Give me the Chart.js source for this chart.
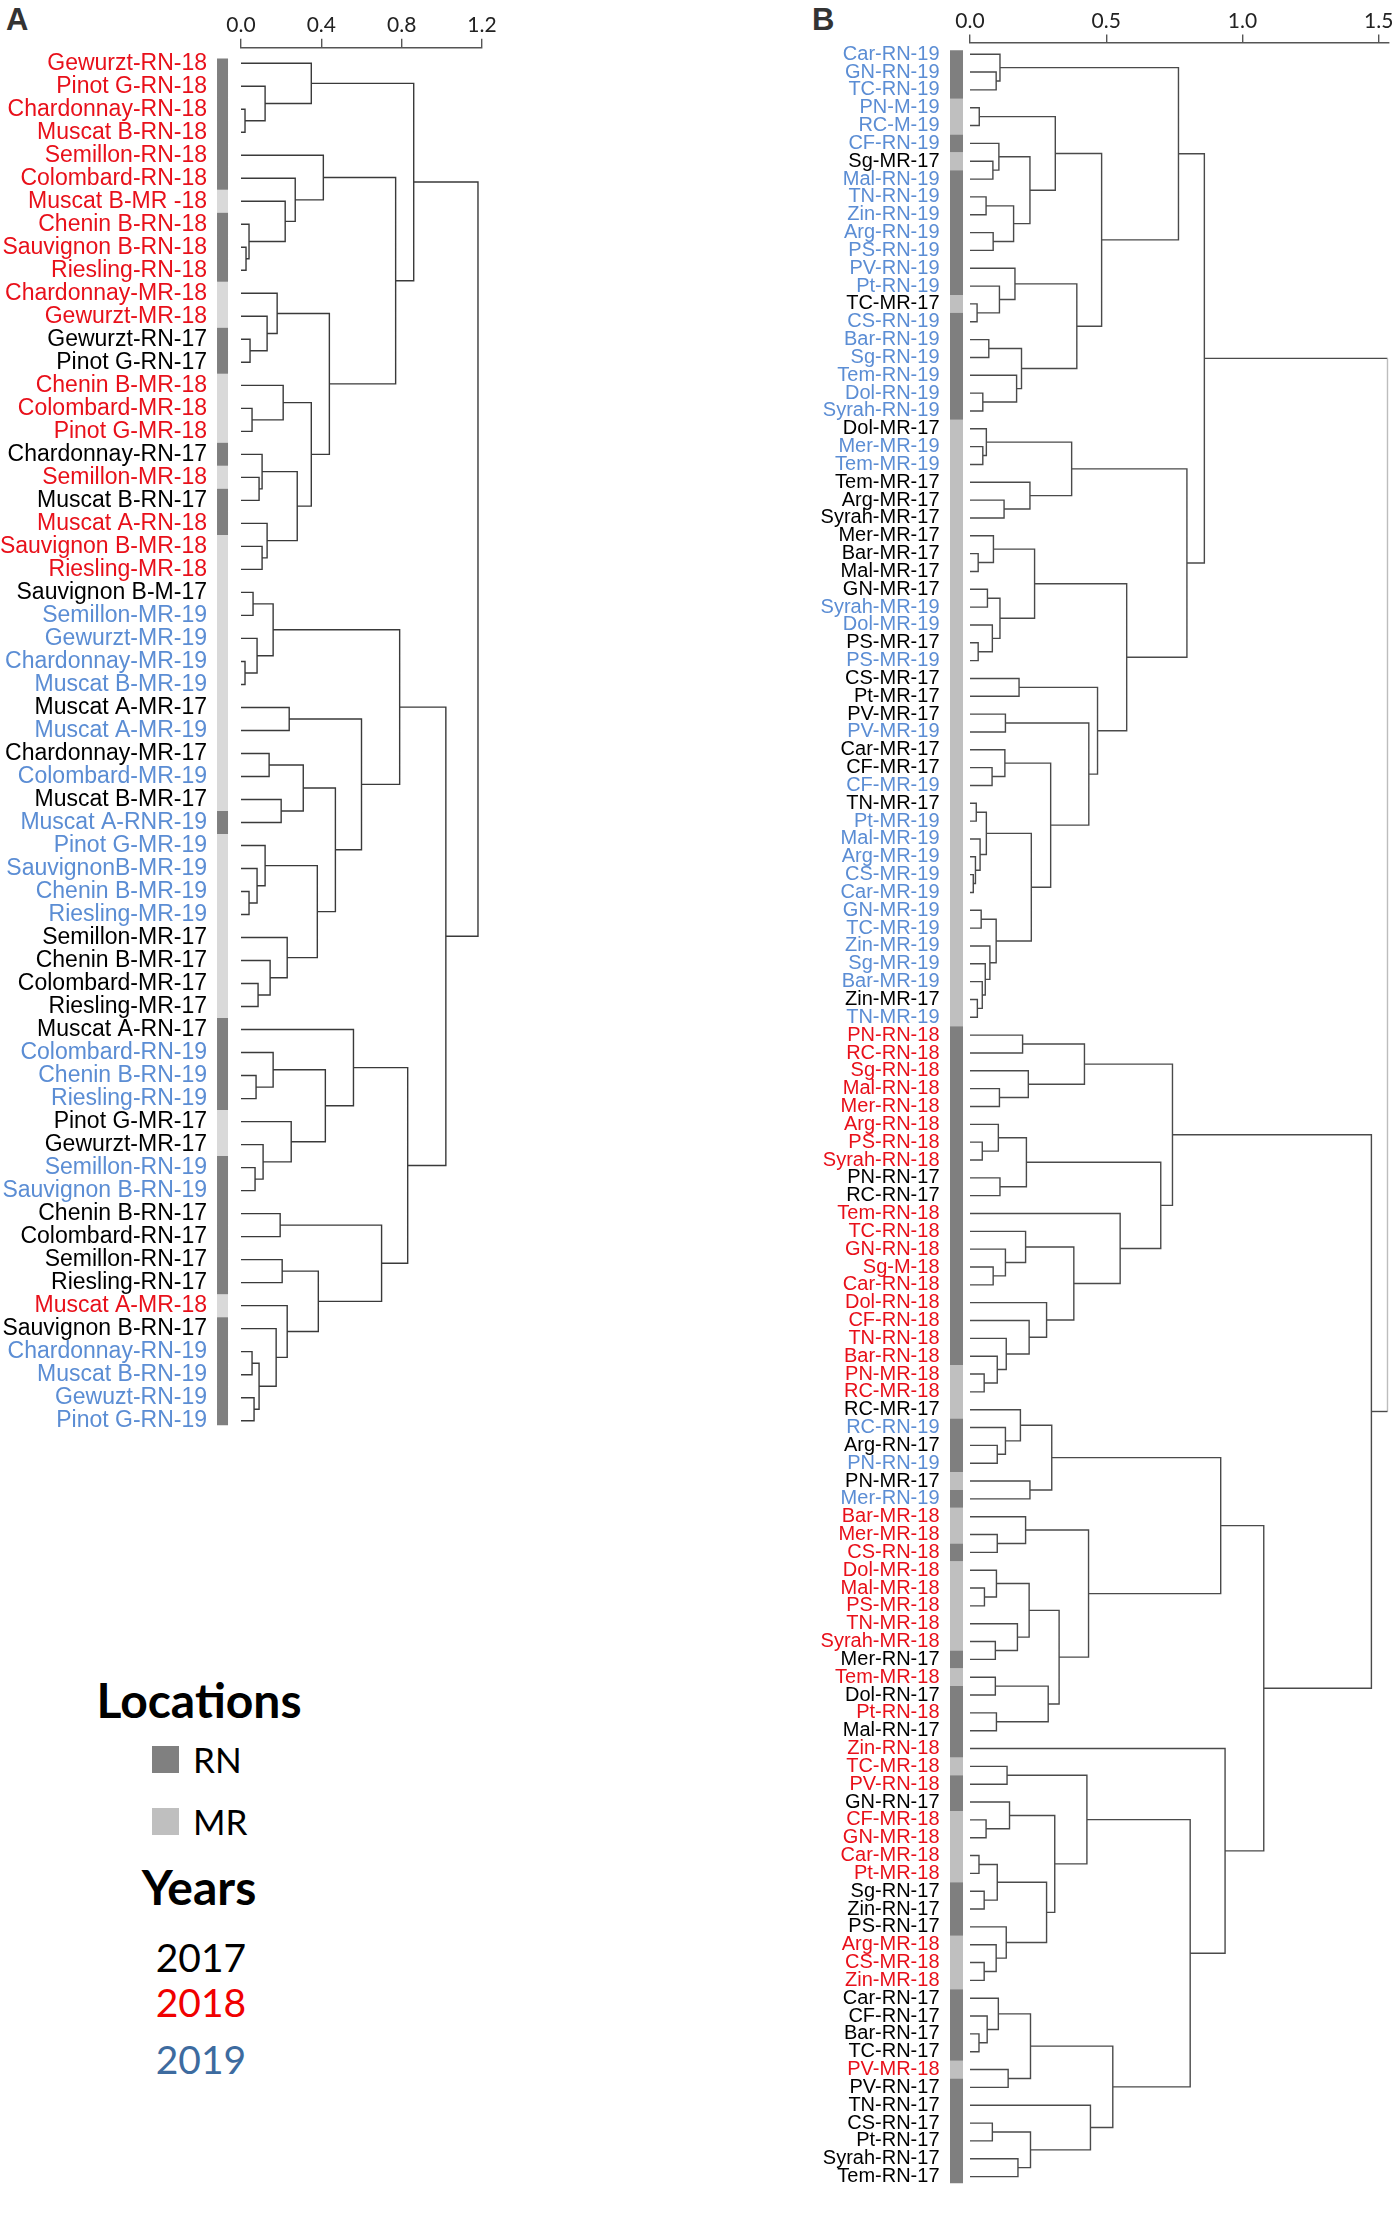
<!DOCTYPE html>
<html>
<head>
<meta charset="utf-8">
<title>Dendrograms A and B</title>
<script src="https://cdn.jsdelivr.net/npm/chart.js@4.4.1/dist/chart.umd.min.js"></script>
<style>
  html, body { margin: 0; padding: 0; background: #fff; }
  body { width: 1397px; height: 2228px; position: relative; overflow: hidden; }
  canvas { position: absolute; top: 0; }
  .tag { position: absolute; top: 2px; font: bold 31px 'Liberation Sans', Arial, sans-serif; color: #333; }
  .lg { position: absolute; font-family: Lato, 'Open Sans', sans-serif; line-height: 1; white-space: nowrap; }
  .lg.head { font-weight: bold; font-size: 48px; left: 0; width: 398px; text-align: center; color: #000; }
  .lg.item { font-size: 35px; color: #000; }
  .lg.year { font-size: 39px; left: 0; width: 402px; text-align: center; }
  .sw { position: absolute; width: 27px; height: 27px; left: 152px; }
</style>
</head>
<body>
<div class="tag" style="left:6px">A</div>
<div class="tag" style="left:812px">B</div>
<canvas id="chartA" width="500" height="1480" style="left:0"></canvas>
<canvas id="chartB" width="697" height="2228" style="left:700px"></canvas>

<div class="lg head" style="top:1676px">Locations</div>
<div class="sw" style="top:1746px;background:#808080"></div>
<div class="lg item" style="left:193px;top:1742px">RN</div>
<div class="sw" style="top:1808px;background:#bfbfbf"></div>
<div class="lg item" style="left:193px;top:1804px">MR</div>
<div class="lg head" style="top:1863px">Years</div>
<div class="lg year" style="top:1938px;color:#000">2017</div>
<div class="lg year" style="top:1983px;color:#f00000">2018</div>
<div class="lg year" style="top:2040px;color:#3d6b9f">2019</div>

<script>
'use strict';

/* ── Panel A ─────────────────────────────────────────────── */
const leavesA = ['Gewurzt-RN-18','Pinot G-RN-18','Chardonnay-RN-18','Muscat B-RN-18','Semillon-RN-18',
  'Colombard-RN-18','Muscat B-MR -18','Chenin B-RN-18','Sauvignon B-RN-18','Riesling-RN-18',
  'Chardonnay-MR-18','Gewurzt-MR-18','Gewurzt-RN-17','Pinot G-RN-17','Chenin B-MR-18',
  'Colombard-MR-18','Pinot G-MR-18','Chardonnay-RN-17','Semillon-MR-18','Muscat B-RN-17',
  'Muscat A-RN-18','Sauvignon B-MR-18','Riesling-MR-18','Sauvignon B-M-17','Semillon-MR-19',
  'Gewurzt-MR-19','Chardonnay-MR-19','Muscat B-MR-19','Muscat A-MR-17','Muscat A-MR-19',
  'Chardonnay-MR-17','Colombard-MR-19','Muscat B-MR-17','Muscat A-RNR-19','Pinot G-MR-19',
  'SauvignonB-MR-19','Chenin B-MR-19','Riesling-MR-19','Semillon-MR-17','Chenin B-MR-17',
  'Colombard-MR-17','Riesling-MR-17','Muscat A-RN-17','Colombard-RN-19','Chenin B-RN-19',
  'Riesling-RN-19','Pinot G-MR-17','Gewurzt-MR-17','Semillon-RN-19','Sauvignon B-RN-19',
  'Chenin B-RN-17','Colombard-RN-17','Semillon-RN-17','Riesling-RN-17','Muscat A-MR-18',
  'Sauvignon B-RN-17','Chardonnay-RN-19','Muscat B-RN-19','Gewuzt-RN-19','Pinot G-RN-19'];

// location strip, as runs of [location, number of leaves]
const locRunsA = [['RN',6],['MR',1],['RN',3],['MR',2],['RN',2],['MR',3],['RN',1],['MR',1],['RN',2],
  ['MR',12],['RN',1],['MR',8],['RN',4],['MR',2],['RN',6],['MR',1],['RN',5]];

// merges: [first leaf, last leaf of left cluster, last leaf of right cluster, height]
const linksA = [
  [3,3,4,0.02],[2,2,4,0.12],[1,1,4,0.35],
  [9,9,10,0.025],[8,8,10,0.04],[7,7,10,0.22],[6,6,10,0.27],[5,5,10,0.41],
  [13,13,14,0.045],[12,12,14,0.13],[11,11,14,0.18],
  [16,16,17,0.055],[15,15,17,0.21],
  [19,19,20,0.09],[18,18,20,0.105],[22,22,23,0.105],[21,21,23,0.13],[18,20,23,0.28],
  [15,17,23,0.35],[11,14,23,0.44],[5,10,23,0.77],[1,4,23,0.86],
  [24,24,25,0.06],[27,27,28,0.02],[26,26,28,0.08],[24,25,28,0.16],
  [29,29,30,0.24],[31,31,32,0.14],[33,33,34,0.20],[31,32,34,0.31],
  [37,37,38,0.04],[36,36,38,0.08],[35,35,38,0.12],
  [41,41,42,0.085],[40,40,42,0.145],[39,39,42,0.23],[35,38,42,0.38],
  [31,34,42,0.47],[29,30,42,0.60],[24,28,42,0.79],
  [45,45,46,0.075],[44,44,46,0.16],[49,49,50,0.07],[48,48,50,0.11],[47,47,50,0.25],
  [44,46,50,0.42],[43,43,50,0.56],
  [51,51,52,0.195],[53,53,54,0.205],[57,57,58,0.055],[59,59,60,0.065],[57,58,60,0.09],
  [56,56,60,0.175],[55,55,60,0.23],[53,54,60,0.385],[51,52,60,0.70],
  [43,50,60,0.83],[24,42,60,1.02],[1,23,60,1.18]];

const ticksA = [0, 0.4, 0.8, 1.2];

/* ── Panel B ─────────────────────────────────────────────── */
const leavesB = ['Car-RN-19','GN-RN-19','TC-RN-19','PN-M-19','RC-M-19','CF-RN-19','Sg-MR-17','Mal-RN-19',
  'TN-RN-19','Zin-RN-19','Arg-RN-19','PS-RN-19','PV-RN-19','Pt-RN-19','TC-MR-17','CS-RN-19',
  'Bar-RN-19','Sg-RN-19','Tem-RN-19','Dol-RN-19','Syrah-RN-19','Dol-MR-17','Mer-MR-19','Tem-MR-19',
  'Tem-MR-17','Arg-MR-17','Syrah-MR-17','Mer-MR-17','Bar-MR-17','Mal-MR-17','GN-MR-17','Syrah-MR-19',
  'Dol-MR-19','PS-MR-17','PS-MR-19','CS-MR-17','Pt-MR-17','PV-MR-17','PV-MR-19','Car-MR-17',
  'CF-MR-17','CF-MR-19','TN-MR-17','Pt-MR-19','Mal-MR-19','Arg-MR-19','CS-MR-19','Car-MR-19',
  'GN-MR-19','TC-MR-19','Zin-MR-19','Sg-MR-19','Bar-MR-19','Zin-MR-17','TN-MR-19','PN-RN-18',
  'RC-RN-18','Sg-RN-18','Mal-RN-18','Mer-RN-18','Arg-RN-18','PS-RN-18','Syrah-RN-18','PN-RN-17',
  'RC-RN-17','Tem-RN-18','TC-RN-18','GN-RN-18','Sg-M-18','Car-RN-18','Dol-RN-18','CF-RN-18',
  'TN-RN-18','Bar-RN-18','PN-MR-18','RC-MR-18','RC-MR-17','RC-RN-19','Arg-RN-17','PN-RN-19',
  'PN-MR-17','Mer-RN-19','Bar-MR-18','Mer-MR-18','CS-RN-18','Dol-MR-18','Mal-MR-18','PS-MR-18',
  'TN-MR-18','Syrah-MR-18','Mer-RN-17','Tem-MR-18','Dol-RN-17','Pt-RN-18','Mal-RN-17','Zin-RN-18',
  'TC-MR-18','PV-RN-18','GN-RN-17','CF-MR-18','GN-MR-18','Car-MR-18','Pt-MR-18','Sg-RN-17',
  'Zin-RN-17','PS-RN-17','Arg-MR-18','CS-MR-18','Zin-MR-18','Car-RN-17','CF-RN-17','Bar-RN-17',
  'TC-RN-17','PV-MR-18','PV-RN-17','TN-RN-17','CS-RN-17','Pt-RN-17','Syrah-RN-17','Tem-RN-17'];

const locRunsB = [['RN',3],['MR',2],['RN',1],['MR',1],['RN',7],['MR',1],['RN',6],['MR',34],['RN',19],
  ['MR',3],['RN',3],['MR',1],['RN',1],['MR',2],['RN',1],['MR',5],['RN',1],['MR',1],['RN',4],['MR',1],
  ['RN',2],['MR',4],['RN',3],['MR',3],['RN',4],['MR',1],['RN',6]];

const linksB = [
  [2,2,3,0.096],[1,1,3,0.11],[4,4,5,0.034],[7,7,8,0.084],[6,6,8,0.106],
  [9,9,10,0.059],[11,11,12,0.085],[9,10,12,0.16],[6,8,12,0.22],[4,5,12,0.313],
  [15,15,16,0.026],[14,14,16,0.108],[13,13,16,0.165],
  [17,17,18,0.069],[20,20,21,0.047],[19,19,21,0.171],[17,18,21,0.189],
  [13,16,21,0.392],[4,12,21,0.483],[1,3,21,0.765],
  [23,23,24,0.047],[22,22,24,0.06],[26,26,27,0.125],[25,25,27,0.22],[22,24,27,0.373],
  [29,29,30,0.03],[28,28,30,0.086],[31,31,32,0.064],[34,34,35,0.03],[33,33,35,0.082],
  [31,32,35,0.11],[28,30,35,0.237],
  [36,36,37,0.18],[38,38,39,0.13],[41,41,42,0.081],[40,40,42,0.128],
  [43,43,44,0.023],[47,47,48,0.012],[46,46,48,0.02],[45,45,48,0.037],[43,44,48,0.06],
  [49,49,50,0.041],[54,54,55,0.027],[53,53,55,0.045],[52,52,55,0.056],[51,51,55,0.073],
  [49,50,55,0.096],[43,48,55,0.225],[40,42,55,0.296],[38,39,55,0.436],[36,37,55,0.468],
  [28,35,55,0.575],[22,27,55,0.796],[1,21,55,0.86],
  [56,56,57,0.193],[59,59,60,0.108],[58,58,60,0.214],[56,57,60,0.42],
  [62,62,63,0.045],[61,61,63,0.104],[64,64,65,0.11],[61,63,65,0.207],
  [69,69,70,0.085],[68,68,70,0.13],[67,67,70,0.204],
  [75,75,76,0.052],[74,74,76,0.10],[73,73,76,0.133],[72,72,76,0.217],[71,71,76,0.281],
  [67,70,76,0.381],[66,66,76,0.551],[61,65,76,0.70],[56,60,76,0.743],
  [79,79,80,0.10],[78,78,80,0.13],[77,77,80,0.185],[81,81,82,0.22],[77,80,82,0.30],
  [84,84,85,0.10],[83,83,85,0.204],[87,87,88,0.053],[86,86,88,0.097],
  [90,90,91,0.093],[89,89,91,0.174],[86,88,91,0.217],
  [92,92,93,0.093],[94,94,95,0.097],[92,93,95,0.287],[86,91,95,0.327],[83,85,95,0.435],
  [77,82,95,0.92],
  [97,97,98,0.136],[100,100,101,0.059],[99,99,101,0.145],
  [102,102,103,0.033],[104,104,105,0.052],[102,103,105,0.10],
  [108,108,109,0.052],[107,107,109,0.096],[106,106,109,0.133],[102,105,109,0.281],
  [99,101,109,0.311],[97,98,109,0.429],
  [112,112,113,0.033],[111,111,113,0.063],[110,110,113,0.104],[114,114,115,0.14],
  [110,113,115,0.222],[117,117,118,0.082],[119,119,120,0.176],[117,118,120,0.222],
  [116,116,120,0.442],[110,115,120,0.524],
  [97,109,120,0.808],[96,96,120,0.936],[77,95,120,1.078],[56,76,120,1.473],[1,55,120,1.532]];

const ticksB = [0, 0.5, 1.0, 1.5];

const yearColors = { '17': '#000000', '18': '#e8101a', '19': '#5b8dd4' };

/* ── helpers ─────────────────────────────────────────────── */
const gap = { x: null, y: null };

function expandRuns(runs) {
  const out = [];
  runs.forEach(([loc, k]) => { for (let i = 0; i < k; i++) out.push(loc); });
  return out;
}

// turns the merge list into U-shaped links, children first
function buildLinks(links, n) {
  const nodes = {};
  for (let i = 1; i <= n; i++) nodes[i + '-' + i] = { y: i, h: 0 };
  const body = [], root = [];
  const sorted = links.slice().sort((a, b) => (a[2] - a[0]) - (b[2] - b[0]));
  sorted.forEach(([lo, mid, hi, h]) => {
    const l = nodes[lo + '-' + mid], r = nodes[(mid + 1) + '-' + hi];
    const pts = [{ x: l.h, y: l.y }, { x: h, y: l.y }, { x: h, y: r.y }, { x: r.h, y: r.y }, gap];
    (lo === 1 && hi === n ? root : body).push(...pts);
    nodes[lo + '-' + hi] = { y: (l.y + r.y) / 2, h };
  });
  return { body, root };
}

function makeDendro(id, leaves, locRuns, links, tickVals, g) {
  const n = leaves.length;
  const tree = buildLinks(links, n);
  const strip = { RN: [], MR: [] };
  expandRuns(locRuns).forEach((loc, i) => {
    const v = i + 1;
    strip[loc].push({ x: g.stripX, y: Math.max(v - 0.5, g.stripTop) },
                    { x: g.stripX, y: Math.min(v + 0.5, n + g.stripBottom) }, gap);
  });
  const line = { showLine: true, pointRadius: 0, pointHoverRadius: 0, spanGaps: false, tension: 0, clip: false };
  const stripSet = (data, color) => Object.assign({}, line, {
    data, borderColor: color, borderWidth: g.stripW, borderCapStyle: 'butt' });

  return new Chart(document.getElementById(id), {
    type: 'scatter',
    data: {
      datasets: [
        stripSet(strip.RN, g.rnColor),
        stripSet(strip.MR, g.mrColor),
        Object.assign({}, line, { data: tree.body, borderColor: g.linkColor, borderWidth: 1.4 }),
        Object.assign({}, line, {
          data: tree.root, borderColor: g.linkColor, borderWidth: 1.4,
          segment: { borderColor: c => (Math.abs(c.p0.x - c.p1.x) < 0.5 ? g.rootColor : g.linkColor) },
        }),
      ],
    },
    options: {
      responsive: false,
      animation: false,
      events: [],
      layout: { padding: { left: 0, top: 0, right: g.padRight, bottom: g.padBottom } },
      plugins: { legend: { display: false }, tooltip: { enabled: false } },
      scales: {
        x: {
          type: 'linear', position: 'top', min: 0, max: g.xMax,
          afterBuildTicks: s => { s.ticks = tickVals.map(v => ({ value: v })); },
          afterFit: s => { s.height = g.axisH; },
          grid: { drawOnChartArea: false, drawTicks: true, tickLength: g.tickLen, color: '#555', lineWidth: 1.4 },
          border: { display: true, color: '#555', width: 1.4 },
          ticks: {
            autoSkip: false, maxRotation: 0, padding: 1, color: '#222',
            font: { family: 'Lato, "Open Sans", sans-serif', size: g.tickFont },
            callback: v => Number(v).toFixed(1),
          },
        },
        y: {
          type: 'linear', reverse: true, min: g.yMin, max: n + 0.5,
          afterBuildTicks: s => { s.ticks = leaves.map((_, i) => ({ value: i + 1 })); },
          afterFit: s => { s.width = g.axisW; },
          grid: { display: false, drawTicks: false },
          border: { display: false },
          ticks: {
            autoSkip: false, padding: g.labelPad,
            font: { family: '"Liberation Sans", Arial, sans-serif', size: g.labelFont },
            color: c => yearColors[String(leaves[c.tick.value - 1] || '').slice(-2)] || '#000',
            callback: v => leaves[v - 1],
          },
        },
      },
    },
  });
}

makeDendro('chartA', leavesA, locRunsA, linksA, ticksA, {
  xMax: 1.2, yMin: 0.33, axisW: 241, axisH: 36, padRight: 18, padBottom: 6,
  tickLen: 9, tickFont: 21, labelFont: 23, labelPad: 34,
  stripX: -0.092, stripW: 11, stripTop: 0.8, stripBottom: 0.2,
  rnColor: '#7f7f7f', mrColor: '#d9d9d9', linkColor: '#3a3a3a', rootColor: '#3a3a3a',
});

makeDendro('chartB', leavesB, locRunsB, linksB, ticksB, {
  xMax: 1.535, yMin: 0.342, axisW: 270, axisH: 35, padRight: 8.7, padBottom: 1.3,
  tickLen: 8, tickFont: 21, labelFont: 20, labelPad: 30.5,
  stripX: -0.0495, stripW: 13, stripTop: 0.78, stripBottom: 0.38,
  rnColor: '#7f7f7f', mrColor: '#bfbfbf', linkColor: '#4a4a4a', rootColor: '#bdbdbd',
});
</script>
</body>
</html>
